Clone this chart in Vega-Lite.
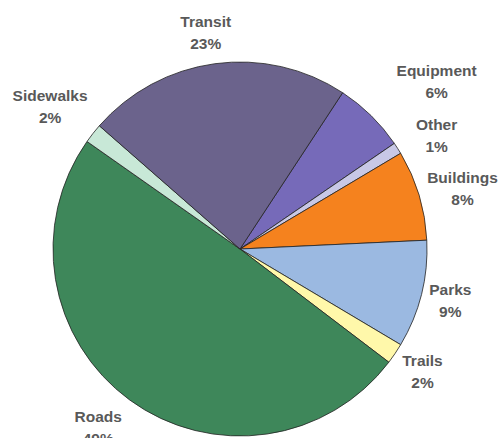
{
  "$schema": "https://vega.github.io/schema/vega-lite/v6.json",
  "width": 480,
  "height": 378,
  "padding": {"left": 0, "top": 60, "right": 19, "bottom": 0},
  "autosize": {"type": "none"},
  "background": "white",
  "config": {"view": {"stroke": null}},
  "data": {
    "values": [
      {"category": "Equipment", "value": 6.2, "pct": "6%"},
      {"category": "Other", "value": 1.0, "pct": "1%"},
      {"category": "Buildings", "value": 7.8, "pct": "8%"},
      {"category": "Parks", "value": 9.3, "pct": "9%"},
      {"category": "Trails", "value": 1.8, "pct": "2%"},
      {"category": "Roads", "value": 49.4, "pct": "49%"},
      {"category": "Sidewalks", "value": 1.7, "pct": "2%"},
      {"category": "Transit", "value": 22.8, "pct": "23%"}
    ]
  },
  "transform": [
    {"window": [{"op": "row_number", "as": "seq"}]},
    {"stack": "value", "groupby": [], "sort": [{"field": "seq", "order": "ascending"}], "as": ["v0", "v1"]},
    {"calculate": "(datum.v0 + datum.v1) / 2", "as": "mid"},
    {"calculate": "[datum.category, datum.pct]", "as": "label"}
  ],
  "layer": [
    {
      "mark": {"type": "arc", "outerRadius": 187, "stroke": "#222222", "strokeWidth": 0.8},
      "encoding": {
        "theta": {"field": "v0", "type": "quantitative", "stack": null, "scale": {"domain": [0, 100], "range": [0.5812, 6.8644]}},
        "theta2": {"field": "v1"},
        "color": {
          "field": "category", "type": "nominal", "legend": null,
          "scale": {
            "domain": ["Equipment", "Other", "Buildings", "Parks", "Trails", "Roads", "Sidewalks", "Transit"],
            "range": ["#766AB9", "#C8C8E6", "#F5821E", "#9BB9E1", "#FFF8AA", "#3E875A", "#C8E8D7", "#6B638C"]
          }
        }
      }
    },
    {
      "transform": [{"filter": "datum.category == 'Transit'"}],
      "mark": {"type": "text", "radius": 225, "dx": -4, "dy": -4, "font": "Liberation Sans", "fontWeight": "bold", "fontSize": 15.5, "lineHeight": 22, "color": "#595959", "align": "center", "baseline": "middle"},
      "encoding": {"theta": {"field": "mid", "type": "quantitative", "stack": null}, "text": {"field": "label"}}
    },
    {
      "transform": [{"filter": "datum.category == 'Sidewalks'"}],
      "mark": {"type": "text", "radius": 225, "dx": -13, "dy": -14, "font": "Liberation Sans", "fontWeight": "bold", "fontSize": 15.5, "lineHeight": 22, "color": "#595959", "align": "center", "baseline": "middle"},
      "encoding": {"theta": {"field": "mid", "type": "quantitative", "stack": null}, "text": {"field": "label"}}
    },
    {
      "transform": [{"filter": "datum.category == 'Equipment'"}],
      "mark": {"type": "text", "radius": 225, "dx": 39, "dy": -17, "font": "Liberation Sans", "fontWeight": "bold", "fontSize": 15.5, "lineHeight": 22, "color": "#595959", "align": "center", "baseline": "middle"},
      "encoding": {"theta": {"field": "mid", "type": "quantitative", "stack": null}, "text": {"field": "label"}}
    },
    {
      "transform": [{"filter": "datum.category == 'Other'"}],
      "mark": {"type": "text", "radius": 225, "dx": 7, "dy": -3, "font": "Liberation Sans", "fontWeight": "bold", "fontSize": 15.5, "lineHeight": 22, "color": "#595959", "align": "center", "baseline": "middle"},
      "encoding": {"theta": {"field": "mid", "type": "quantitative", "stack": null}, "text": {"field": "label"}}
    },
    {
      "transform": [{"filter": "datum.category == 'Buildings'"}],
      "mark": {"type": "text", "radius": 225, "dx": 7, "dy": -6, "font": "Liberation Sans", "fontWeight": "bold", "fontSize": 15.5, "lineHeight": 22, "color": "#595959", "align": "center", "baseline": "middle"},
      "encoding": {"theta": {"field": "mid", "type": "quantitative", "stack": null}, "text": {"field": "label"}}
    },
    {
      "transform": [{"filter": "datum.category == 'Parks'"}],
      "mark": {"type": "text", "radius": 225, "dx": -8, "dy": -14, "font": "Liberation Sans", "fontWeight": "bold", "fontSize": 15.5, "lineHeight": 22, "color": "#595959", "align": "center", "baseline": "middle"},
      "encoding": {"theta": {"field": "mid", "type": "quantitative", "stack": null}, "text": {"field": "label"}}
    },
    {
      "transform": [{"filter": "datum.category == 'Trails'"}],
      "mark": {"type": "text", "radius": 225, "dx": -4, "dy": -14, "font": "Liberation Sans", "fontWeight": "bold", "fontSize": 15.5, "lineHeight": 22, "color": "#595959", "align": "center", "baseline": "middle"},
      "encoding": {"theta": {"field": "mid", "type": "quantitative", "stack": null}, "text": {"field": "label"}}
    },
    {
      "transform": [{"filter": "datum.category == 'Roads'"}],
      "mark": {"type": "text", "radius": 225, "dx": -9, "dy": -14, "font": "Liberation Sans", "fontWeight": "bold", "fontSize": 15.5, "lineHeight": 22, "color": "#595959", "align": "center", "baseline": "middle"},
      "encoding": {"theta": {"field": "mid", "type": "quantitative", "stack": null}, "text": {"field": "label"}}
    }
  ]
}
